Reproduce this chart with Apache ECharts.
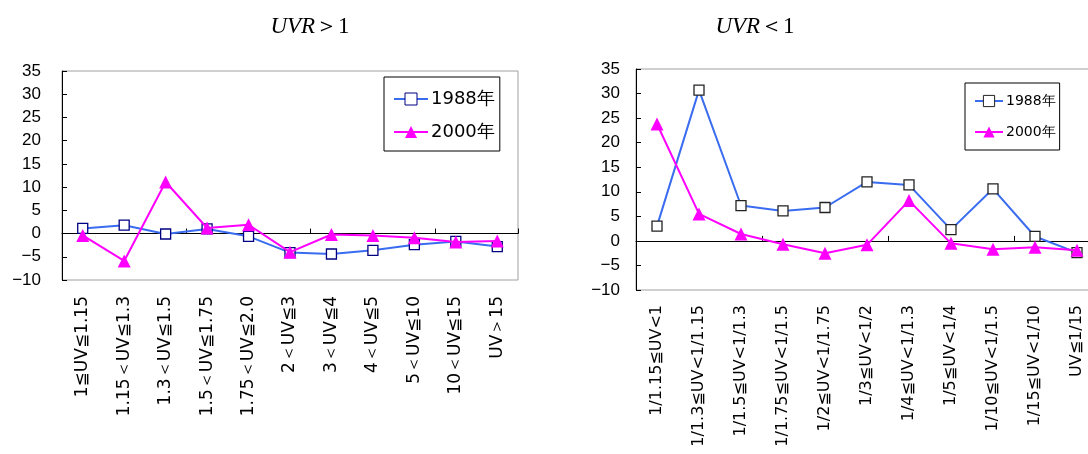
<!DOCTYPE html>
<html>
<head>
<meta charset="utf-8">
<script src="https://cdn.jsdelivr.net/npm/echarts@6/dist/echarts.min.js"></script>
<style>html,body{margin:0;padding:0;background:#fff}#c{width:1088px;height:454px}</style>
</head>
<body>
<div id="c"></div>
<script>
const catsLeft = ['1≦UV≦1.15','1.15＜UV≦1.3','1.3＜UV≦1.5','1.5＜UV≦1.75','1.75＜UV≦2.0','2＜UV≦3','3＜UV≦4','4＜UV≦5','5＜UV≦10','10＜UV≦15','UV＞15'];
const left1988 = [1.1, 1.8, -0.1, 1.0, -0.6, -4.1, -4.4, -3.6, -2.4, -1.7, -2.8];
const left2000 = [-0.4, -5.9, 11.1, 1.2, 1.9, -4.0, -0.2, -0.4, -0.9, -1.8, -1.6];

const catsRight = ['1/1.15≦UV<1','1/1.3≦UV<1/1.15','1/1.5≦UV<1/1.3','1/1.75≦UV<1/1.5','1/2≦UV<1/1.75','1/3≦UV<1/2','1/4≦UV<1/1.3','1/5≦UV<1/4','1/10≦UV<1/1.5','1/15≦UV<1/10','UV≦1/15'];
const right1988 = [3.0, 30.7, 7.2, 6.1, 6.8, 12.0, 11.4, 2.3, 10.6, 0.9, -2.4];
const right2000 = [23.8, 5.5, 1.4, -0.7, -2.5, -0.8, 8.2, -0.5, -1.7, -1.3, -1.9];

const seriesNames = ['1988年', '2000年'];
const titles = [['UVR', '＞1'], ['UVR', '＜1']];

const chart = echarts.init(document.getElementById('c'), null, {renderer: 'canvas'});
const fmtY = v => v < 0 ? '−' + Math.abs(v) : String(v);
const labelFont = 'Liberation Sans';

function yAxis(gi, margin) {
  return {
    type: 'value', gridIndex: gi, min: -10, max: 35, interval: 5,
    axisLine: {show: true, lineStyle: {color: '#000', width: 1}},
    axisTick: {show: true, inside: true, length: 5, lineStyle: {color: '#000'}},
    splitLine: {show: false},
    axisLabel: {formatter: fmtY, color: '#000', fontSize: 17, fontFamily: labelFont, margin: margin}
  };
}
function xAxes(gi, cats, margin, fs) {
  return [
    {type: 'category', gridIndex: gi, data: cats, position: 'bottom',
     axisLine: {show: false, onZero: false}, axisTick: {show: false},
     axisLabel: {rotate: 90, interval: 0, color: '#000', fontSize: fs, fontFamily: 'DejaVu Sans', margin: margin}},
    {type: 'category', gridIndex: gi, data: cats, position: 'bottom',
     axisLine: {show: true, onZero: true, onZeroAxisIndex: gi, lineStyle: {color: '#000', width: 1}},
     axisTick: {show: true, inside: true, length: 5, lineStyle: {color: '#000'}},
     axisLabel: {show: false}}
  ];
}
function lineSeries(name, data, xi, yi, which, sqBorder) {
  if (which === 0) {
    return {name, type: 'line', data, xAxisIndex: xi, yAxisIndex: yi,
      symbol: 'rect', symbolSize: 10,
      itemStyle: {color: '#fff', borderColor: sqBorder, borderWidth: 1.3},
      lineStyle: {color: '#3a6cf0', width: 2}, z: 3, animation: false};
  }
  return {name, type: 'line', data, xAxisIndex: xi, yAxisIndex: yi,
    symbol: 'triangle', symbolSize: 13,
    itemStyle: {color: '#ff00ff'},
    lineStyle: {color: '#ff00ff', width: 2}, z: 4, animation: false};
}
function title(i, cx) {
  return {
    text: '{i|' + titles[i][0] + '}{n|' + titles[i][1] + '}',
    left: cx, top: 10, textAlign: 'center',
    textStyle: {fontWeight: 'normal', rich: {
      i: {fontFamily: 'Liberation Serif', fontStyle: 'italic', fontWeight: 'normal', fontSize: 23, color: '#000'},
      n: {fontFamily: 'Liberation Serif', fontWeight: 'normal', fontSize: 23, color: '#000'}
    }}
  };
}
function legendData(border) {
  return [
    {name: seriesNames[0], itemStyle: {color: '#fff', borderColor: border, borderWidth: 1}},
    {name: seriesNames[1]}
  ];
}

const option = {
  backgroundColor: '#fff',
  animation: false,
  title: [title(0, 305), title(1, 750)],
  legend: [
    {data: legendData('#000080'), orient: 'vertical', left: 384, top: 77,
     itemWidth: 34, itemHeight: 15, itemGap: 15,
     padding: [13, 5, 10, 9], borderColor: '#000', borderWidth: 1, backgroundColor: '#fff',
     textStyle: {fontSize: 18, fontFamily: 'DejaVu Sans', color: '#000', padding: [0, 0, 0, -2]},
     selectedMode: false},
    {data: legendData('#222'), orient: 'vertical', left: 965, top: 83,
     itemWidth: 28, itemHeight: 14, itemGap: 17,
     padding: [11, 4, 11, 9], borderColor: '#000', borderWidth: 1, backgroundColor: '#fff',
     textStyle: {fontSize: 14, fontFamily: 'DejaVu Sans', color: '#000', padding: [0, 0, 0, -2]},
     selectedMode: false}
  ],
  grid: [
    {left: 62, top: 71, width: 456, height: 209, show: true, borderColor: '#a0a0a0', borderWidth: 1, backgroundColor: 'transparent', outerBoundsMode: 'none', containLabel: false},
    {left: 636, top: 69, width: 462, height: 221, show: true, borderColor: '#a0a0a0', borderWidth: 1, backgroundColor: 'transparent', outerBoundsMode: 'none', containLabel: false}
  ],
  xAxis: [...xAxes(0, catsLeft, 16, 17), ...xAxes(1, catsRight, 15, 16)],
  yAxis: [yAxis(0, 21), yAxis(1, 16)],
  series: [
    lineSeries(seriesNames[0], left1988, 0, 0, 0, '#000080'),
    lineSeries(seriesNames[1], left2000, 0, 0, 1),
    lineSeries(seriesNames[0], right1988, 2, 1, 0, '#222'),
    lineSeries(seriesNames[1], right2000, 2, 1, 1)
  ]
};
chart.setOption(option);
</script>
</body>
</html>
